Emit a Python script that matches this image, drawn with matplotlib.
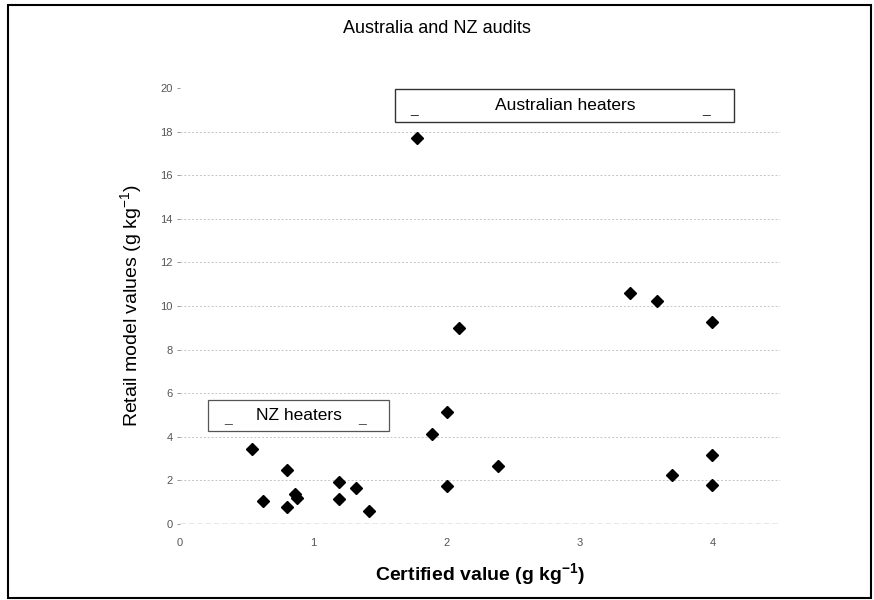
import matplotlib
matplotlib.use("Agg")
from matplotlib import pyplot as plt
from matplotlib.patches import Rectangle

plt.rcParams['font.family'] = ['Liberation Sans', 'DejaVu Sans']

# NZ audit points (certified value, retail model value)
nz_cert = [0.54, 0.62, 0.80, 0.80, 0.86, 0.88, 1.19, 1.19, 1.32, 1.42]
nz_retail = [3.45, 1.06, 2.48, 0.75, 1.39, 1.18, 1.93, 1.15, 1.64, 0.58]

# Australian audit points
au_cert = [1.78, 1.89, 2.00, 2.00, 2.09, 2.39, 3.38, 3.58, 3.69, 3.99, 3.99, 3.99]
au_retail = [17.73, 4.12, 5.15, 1.72, 8.98, 2.67, 10.59, 10.25, 2.25, 9.26, 3.16, 1.78]

xticks = [0, 1, 2, 3, 4]
yticks = [0, 2, 4, 6, 8, 10, 12, 14, 16, 18, 20]

fig = plt.figure(figsize=(8.74, 6.0), dpi=100)
ax = fig.add_axes([0.206, 0.127, 0.686, 0.726])

# faint dotted gridlines like the scanned original
for yv in yticks[1:-1]:
    ax.axhline(yv, color='#c4c4c4', lw=0.7, ls=(0, (2, 2)), zorder=1)
ax.axhline(0, color='#888888', lw=1.0, ls=(0, (4, 2)), zorder=1)

ax.plot(nz_cert, nz_retail, ls='none', marker='D', ms=6.5, color='black', zorder=3)
ax.plot(au_cert, au_retail, ls='none', marker='D', ms=6.5, color='black', zorder=3)

ax.set_xlim(0, 4.5)
ax.set_ylim(0, 20)
ax.set_xticks(xticks)
ax.set_yticks(yticks)
ax.tick_params(axis='both', colors='#888888', labelcolor='#555555', labelsize=8, length=2, width=0.6)
ax.tick_params(axis='x', length=0, pad=10)
for s in ax.spines.values():
    s.set_visible(False)

ax.set_xlabel('Certified value (g kg$^{\\mathregular{-1}}$)', fontsize=14, fontweight='bold', labelpad=10)
ax.set_ylabel('Retail model values (g kg$^{\\mathregular{-1}}$)', fontsize=14, labelpad=11)
fig.text(0.5, 0.952, 'Australia and NZ audits', ha='center', va='center', fontsize=13)

# label boxes
ax.add_patch(Rectangle((0.21, 4.27), 1.36, 1.42, fill=False, ec='#555555', lw=0.9, clip_on=False, zorder=4))
ax.text(0.89, 4.98, 'NZ heaters', ha='center', va='center', fontsize=12.5, zorder=5)
ax.text(0.36, 4.55, '_', ha='center', va='bottom', fontsize=10, color='#555555')
ax.text(1.37, 4.55, '_', ha='center', va='bottom', fontsize=10, color='#555555')

ax.add_patch(Rectangle((1.61, 18.44), 2.55, 1.51, fill=False, ec='#333333', lw=1.0, clip_on=False, zorder=4))
ax.text(2.89, 19.2, 'Australian heaters', ha='center', va='center', fontsize=12.5, zorder=5)
ax.text(1.76, 18.7, '_', ha='center', va='bottom', fontsize=10, color='#333333')
ax.text(3.95, 18.7, '_', ha='center', va='bottom', fontsize=10, color='#333333')

# outer frame
fig.add_artist(Rectangle((0.009, 0.004), 0.988, 0.988, transform=fig.transFigure,
                         fill=False, ec='black', lw=1.5))

fig.savefig('out.png', dpi=100)
